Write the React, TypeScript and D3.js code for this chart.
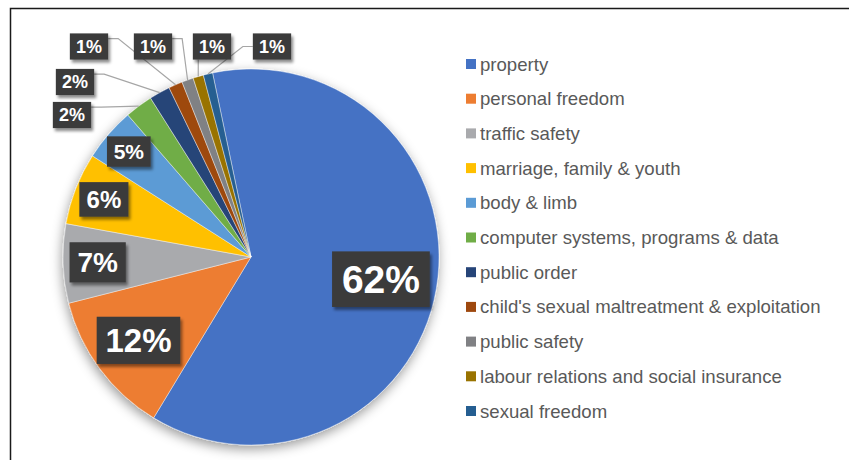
import React from "react";
import * as d3 from "d3";

const categories = [
  "property",
  "personal freedom",
  "traffic safety",
  "marriage, family & youth",
  "body & limb",
  "computer systems, programs & data",
  "public order",
  "child's sexual maltreatment & exploitation",
  "public safety",
  "labour relations and social insurance",
  "sexual freedom",
];
const values = [62, 12.4, 6.8, 6.2, 4.6, 2.4, 1.8, 1.2, 1.0, 0.9, 0.8];
const colors = [
  "#4472C4",
  "#ED7D31",
  "#A9AAAD",
  "#FFC000",
  "#5B9BD5",
  "#70AD47",
  "#264478",
  "#9E480E",
  "#808184",
  "#997300",
  "#255E91",
];
const labelFontSizes = [39, 33, 28, 24, 21, 18, 18, 18, 18, 18, 18];
// manually placed (dragged) outside labels, box centres
const outsideLabelCenters: ([number, number] | null)[] = [
  null, null, null, null, null,
  [72, 115], [75, 82], [89, 46.5], [153, 46.5], [212, 46.5], [272, 46.5],
];

const W = 849;
const H = 460;
const cx = 251;
const cy = 257;
const R = 188;
const startDeg = -11.8;

function textWidth(s: string, fs: number) {
  let w = 0;
  for (const ch of s) w += ch === "%" ? 0.889 : 0.556;
  return w * fs;
}

export default function App() {
  const total = d3.sum(values);
  const pie = d3
    .pie<number>()
    .sort(null)
    .value((d) => d)
    .startAngle((startDeg * Math.PI) / 180)
    .endAngle((startDeg * Math.PI) / 180 + 2 * Math.PI);
  const arcs = pie(values);
  const arc = d3.arc<d3.PieArcDatum<number>>().innerRadius(0).outerRadius(R);
  const fmt = d3.format(".0%");

  const legendX = 466;
  const legendY0 = 64;
  const legendStep = 34.7;

  const labels = arcs.map((a, i) => {
    const txt = fmt(a.value / total);
    const fs = labelFontSizes[i];
    const bw = textWidth(txt, fs) + 0.35 * fs + 6;
    const bh = fs * 1.4 + 1;
    const mid = (a.startAngle + a.endAngle) / 2;
    const px = cx + R * Math.sin(mid);
    const py = cy - R * Math.cos(mid);
    let lx: number, ly: number;
    let leader: string | null = null;
    const oc = outsideLabelCenters[i];
    if (oc) {
      lx = oc[0];
      ly = oc[1];
      const left = lx - bw / 2;
      const right = lx + bw / 2;
      const bottom = ly + bh / 2;
      if (py > bottom + 8 && px >= left - 15 && px <= right + 15) {
        const sx = Math.max(left, Math.min(right, px));
        leader = d3.line()([[sx, bottom], [px, py]]);
      } else if (px > right) {
        const yy = ly - bh * 0.3;
        leader = d3.line()([[right, yy], [right + 10, yy], [px, py]]);
      } else {
        leader = d3.line()([[left, ly], [left - 10, ly], [px, py]]);
      }
    } else {
      const r = R - Math.sqrt(bw * bw + bh * bh) / 2;
      lx = cx + r * Math.sin(mid);
      ly = cy - r * Math.cos(mid);
    }
    return { txt, fs, bw, bh, lx, ly, leader };
  });

  return (
    <div style={{ position: "fixed", left: 0, top: 0, width: W, height: H, background: "#fff" }}>
      <svg width={W} height={H} style={{ display: "block" }}>
        <defs>
          <filter id="pieShadow" x="-20%" y="-20%" width="140%" height="140%">
            <feDropShadow dx="-1" dy="4" stdDeviation="6" floodColor="#000" floodOpacity="0.4" />
          </filter>
          <filter id="boxShadow" x="-30%" y="-30%" width="160%" height="160%">
            <feDropShadow dx="2" dy="3" stdDeviation="1.8" floodColor="#000" floodOpacity="0.45" />
          </filter>
        </defs>
        <rect x={10.5} y={8.5} width={W + 20} height={H + 20} fill="#fff" stroke="#1a1a1a" strokeWidth={1.5} />
        <g transform={`translate(${cx},${cy})`} filter="url(#pieShadow)">
          {arcs.map((a, i) => (
            <path key={i} d={arc(a) || ""} fill={colors[i]} stroke="#ffffff" strokeWidth={0.6} strokeOpacity={0.7} />
          ))}
        </g>
        <g>
          {labels.map((l, i) =>
            l.leader ? (
              <path key={i} d={l.leader} fill="none" stroke="#a6a6a6" strokeWidth={1.2} />
            ) : null
          )}
        </g>
        <g fontFamily="'Liberation Sans', Arial, sans-serif" fontWeight="bold">
          {labels.map((l, i) => (
            <g key={i}>
              <rect
                x={l.lx - l.bw / 2}
                y={l.ly - l.bh / 2}
                width={l.bw}
                height={l.bh}
                fill="#3b3b3b"
                filter="url(#boxShadow)"
              />
              <text
                x={l.lx}
                y={l.ly}
                dy="0.36em"
                textAnchor="middle"
                fontSize={l.fs}
                fill="#ffffff"
              >
                {l.txt}
              </text>
            </g>
          ))}
        </g>
        <g fontFamily="'Liberation Sans', Arial, sans-serif">
          {categories.map((c, i) => (
            <g key={c} transform={`translate(${legendX},${legendY0 + i * legendStep})`}>
              <rect x={0} y={-5} width={10} height={10} fill={colors[i]} />
              <text x={14} y={0} dy="0.35em" fontSize={18.6} fill="#595959">
                {c}
              </text>
            </g>
          ))}
        </g>
      </svg>
    </div>
  );
}
